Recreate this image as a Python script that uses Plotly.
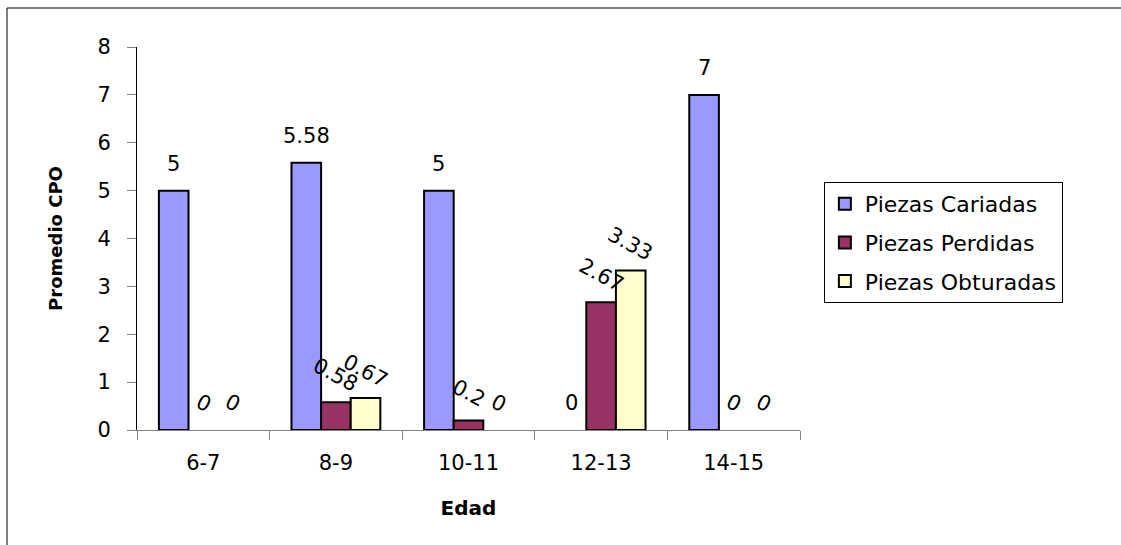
import plotly.graph_objects as go

# Promedio CPO por grupo de edad
edades = ["6-7", "8-9", "10-11", "12-13", "14-15"]
cariadas = [5, 5.58, 5, 0, 7]
perdidas = [0, 0.58, 0.2, 2.67, 0]
obturadas = [0, 0.67, 0, 3.33, 0]

series = [
    ("Piezas Cariadas", cariadas, "#9999FF", 0),
    ("Piezas Perdidas", perdidas, "#993366", 28),
    ("Piezas Obturadas", obturadas, "#FFFFCC", 28),
]

W, H = 1121, 545
ML, MR, MT, MB = 137, 321, 47, 115
BARGAP = 0.33
FONT = "DejaVu Sans"
FS = 21

fig = go.Figure()
for i, (name, vals, color, ang) in enumerate(series):
    fig.add_trace(go.Bar(
        name=name, x=edades,
        # zero values leave no bar (and no outline on the baseline)
        y=[v if v else None for v in vals],
        legendgroup=name,
        marker=dict(color=color, line=dict(color="black", width=2)),
    ))

# value labels centred over each bar of the group
plot_w = W - ML - MR
bar_px = plot_w / len(edades) * (1 - BARGAP) / len(series)
annotations = []
for i, (name, vals, color, ang) in enumerate(series):
    for cat, v in zip(edades, vals):
        annotations.append(dict(
            x=cat, y=v, xref="x", yref="y", text=f"{v:g}",
            showarrow=False, textangle=ang,
            xshift=(i - 1) * bar_px, yshift=27,
            font=dict(family=FONT, size=FS, color="black"),
        ))

fig.update_layout(
    width=W, height=H,
    margin=dict(l=ML, r=MR, t=MT, b=MB),
    paper_bgcolor="white", plot_bgcolor="white",
    barmode="group", bargap=BARGAP, bargroupgap=0,
    font=dict(family=FONT, size=FS, color="black"),
    annotations=annotations,
    showlegend=True,
    legend=dict(
        x=1.036, y=0.6475, xanchor="left", yanchor="top",
        bordercolor="black", borderwidth=1, bgcolor="white",
        font=dict(family=FONT, size=22, color="black"),
        tracegroupgap=7, traceorder="grouped",
    ),
    xaxis=dict(
        type="category", tickson="boundaries",
        ticks="outside", ticklen=9, tickcolor="#808080", tickwidth=1,
        showline=True, linecolor="#808080", linewidth=1,
        showgrid=False, zeroline=False,
        ticklabelstandoff=14,
        title=dict(text="<b>Edad</b>", font=dict(family=FONT, size=20), standoff=26),
        tickfont=dict(family=FONT, size=FS),
    ),
    yaxis=dict(
        range=[0, 8], dtick=1,
        ticks="outside", ticklen=9, tickcolor="#808080", tickwidth=1,
        showline=True, linecolor="black", linewidth=1,
        showgrid=False, zeroline=False,
        ticklabelstandoff=12,
        title=dict(text="<b>Promedio CPO</b>", font=dict(family=FONT, size=18), standoff=30),
        tickfont=dict(family=FONT, size=FS),
    ),
    shapes=[dict(
        type="rect", xref="paper", yref="paper",
        x0=(7 - ML) / plot_w, x1=1.5,
        y0=-0.4, y1=(H - MB - 8) / (H - MT - MB),
        line=dict(color="black", width=1), fillcolor="rgba(0,0,0,0)",
        layer="below",
    )],
)

fig.write_html("out.html")
